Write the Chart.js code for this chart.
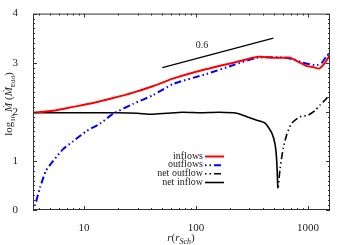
<!DOCTYPE html>
<html>
<head>
<meta charset="utf-8">
<script src="https://cdn.jsdelivr.net/npm/chart.js@4/dist/chart.umd.min.js"></script>
<style>
  html, body { margin: 0; padding: 0; background: #fff; }
  canvas { display: block; }
</style>
</head>
<body>
<canvas id="c" width="350" height="245"></canvas>
<script>
// radius in r_Sch, values are log10 Mdot / Mdot_Edd
const rInflows = [3.5, 5.3, 8, 12, 18.2, 27.4, 41, 63, 124, 215, 360, 490, 562, 693, 850, 975, 1110, 1255, 1420, 1570];
const inflows = [1.98, 2.02, 2.1, 2.18, 2.28, 2.39, 2.52, 2.68, 2.87, 3.0, 3.12, 3.1, 3.1, 3.1, 3.0, 2.93, 2.91, 2.88, 3.0, 3.16];

const rOutflows = [3.5, 3.65, 4.05, 4.57, 5.3, 6.5, 8, 10.4, 13.9, 18.2, 27.4, 41.3, 63, 124, 215, 350, 562, 734, 900, 1197, 1330, 1460, 1570];
const outflows = [0, 0.1, 0.46, 0.8, 1.0, 1.24, 1.4, 1.6, 1.76, 1.96, 2.16, 2.34, 2.57, 2.77, 2.95, 3.1, 3.11, 3.07, 3.0, 2.95, 3.0, 3.13, 3.2];

const rNetOutflow = [543, 562, 602, 646, 716, 850, 1000, 1150, 1280, 1420, 1570];
const netOutflow = [0.47, 0.84, 1.27, 1.54, 1.77, 1.9, 1.93, 2.02, 2.14, 2.24, 2.36];

const rNetInflow = [3.5, 6, 10, 20, 30, 40, 55, 76, 110, 160, 231, 284, 349, 413, 474, 507, 525, 537];
const netInflow = [1.98, 1.98, 1.98, 1.98, 1.97, 1.95, 1.97, 1.99, 1.98, 1.99, 1.97, 1.90, 1.83, 1.77, 1.57, 1.34, 1.0, 0.44];

const rSlope = [50, 490];
const slopeLine = [2.9, 3.5];
const slopeLabel = '0.6';

const xTicks = [10, 100, 1000];
const yTicks = [0, 1, 2, 3, 4];

const SERIF = '"Liberation Serif", "DejaVu Serif", serif';
const dashDotDot = [1.5, 3, 1.5, 3, 7, 3];

function pts(xs, ys) { return xs.map((x, i) => ({ x, y: ys[i] })); }

const series = [
  { label: 'inflows', data: pts(rInflows, inflows), borderColor: '#ff0000', borderWidth: 2, borderDash: [] },
  { label: 'outflows', data: pts(rOutflows, outflows), borderColor: '#0000ff', borderWidth: 2, borderDash: dashDotDot },
  { label: 'net outflow', data: pts(rNetOutflow, netOutflow), borderColor: '#000000', borderWidth: 1.6, borderDash: dashDotDot },
  { label: 'net inflow', data: pts(rNetInflow, netInflow), borderColor: '#000000', borderWidth: 1.6, borderDash: [] }
];

const decorPlugin = {
  id: 'decor',
  afterDraw(chart) {
    const { ctx, chartArea: a, scales } = chart;
    const xs = scales.x, ys = scales.y;
    ctx.save();
    ctx.strokeStyle = '#333';
    ctx.lineWidth = 1;
    ctx.setLineDash([]);
    ctx.strokeRect(a.left + 0.5, a.top + 0.5, a.right - a.left - 1, a.bottom - a.top - 1);

    // inside ticks on all four sides
    ctx.beginPath();
    for (let d = 1; d <= 1000; d *= 10) {
      for (let m = 1; m <= 9; m++) {
        const v = d * m;
        if (v < xs.min || v > xs.max) continue;
        const x = Math.round(xs.getPixelForValue(v)) + 0.5;
        const len = m === 1 ? 4 : 2;
        ctx.moveTo(x, a.bottom); ctx.lineTo(x, a.bottom - len);
        ctx.moveTo(x, a.top); ctx.lineTo(x, a.top + len);
      }
    }
    for (let i = 0; i <= 40; i++) {
      const v = i / 10;
      const y = Math.round(ys.getPixelForValue(v)) + 0.5;
      const len = i % 10 === 0 ? 4 : 2;
      ctx.moveTo(a.left, y); ctx.lineTo(a.left + len, y);
      ctx.moveTo(a.right, y); ctx.lineTo(a.right - len, y);
    }
    ctx.stroke();

    // slope label
    ctx.fillStyle = '#222';
    ctx.font = '10px ' + SERIF;
    ctx.textAlign = 'center';
    ctx.textBaseline = 'middle';
    ctx.fillText(slopeLabel, 202, 45);

    // legend
    const rows = [156, 164.7, 173.3, 182];
    series.forEach((s, i) => {
      ctx.fillStyle = '#222';
      ctx.textAlign = 'right';
      ctx.fillText(s.label, 203, rows[i]);
      ctx.beginPath();
      ctx.strokeStyle = s.borderColor;
      ctx.lineWidth = s.borderWidth;
      ctx.setLineDash(s.borderDash);
      ctx.moveTo(205, rows[i] + 0.5);
      ctx.lineTo(224, rows[i] + 0.5);
      ctx.stroke();
    });
    ctx.setLineDash([]);

    const drawParts = (parts, x0, y0) => {
      let x = x0;
      parts.forEach(p => {
        ctx.font = p.f;
        ctx.textAlign = 'left';
        ctx.fillText(p.t, x, y0 + (p.dy || 0));
        x += ctx.measureText(p.t).width;
      });
    };
    const widthOf = parts => parts.reduce((w, p) => { ctx.font = p.f; return w + ctx.measureText(p.t).width; }, 0);

    // x title: r(r_Sch)
    ctx.fillStyle = '#222';
    ctx.textBaseline = 'alphabetic';
    const xt = [
      { t: 'r', f: 'italic 11px ' + SERIF },
      { t: '(', f: '11px ' + SERIF },
      { t: 'r', f: 'italic 11px ' + SERIF },
      { t: 'Sch', f: 'italic 8px ' + SERIF, dy: 2.5 },
      { t: ')', f: '11px ' + SERIF }
    ];
    drawParts(xt, 181 - widthOf(xt) / 2, 241);

    // y title: log10 Mdot (Mdot_Edd)
    const yt = [
      { t: 'log', f: '11px ' + SERIF },
      { t: '10', f: '7px ' + SERIF, dy: 2.5 },
      { t: ' ', f: '11px ' + SERIF },
      { t: 'Ṁ', f: 'italic 11px ' + SERIF },
      { t: ' (', f: '11px ' + SERIF },
      { t: 'Ṁ', f: 'italic 11px ' + SERIF },
      { t: 'Edd', f: '7px ' + SERIF, dy: 2.5 },
      { t: ')', f: '11px ' + SERIF }
    ];
    ctx.translate(12, 104);
    ctx.rotate(-Math.PI / 2);
    drawParts(yt, -widthOf(yt) / 2, 0);
    ctx.restore();
  }
};

new Chart(document.getElementById('c'), {
  type: 'line',
  data: {
    datasets: [
      ...series.map(s => ({
        label: s.label, data: s.data, borderColor: s.borderColor, borderWidth: s.borderWidth,
        borderDash: s.borderDash, pointRadius: 0, tension: 0.2, fill: false
      })),
      { label: 'slope', data: pts(rSlope, slopeLine), borderColor: '#000', borderWidth: 1.2, pointRadius: 0, fill: false }
    ]
  },
  options: {
    responsive: false,
    devicePixelRatio: 1,
    animation: false,
    layout: { padding: { top: 11, right: 20, left: 0, bottom: 0 } },
    plugins: { legend: { display: false }, tooltip: { enabled: false } },
    scales: {
      x: {
        type: 'logarithmic', min: 3.5, max: 1570,
        grid: { display: false }, border: { display: false },
        afterBuildTicks: s => { s.ticks = xTicks.map(v => ({ value: v })); },
        afterFit: s => { s.height = 35; },
        ticks: { autoSkip: false, maxRotation: 0, padding: 4, color: '#222', font: { family: SERIF, size: 11 }, callback: v => String(v) }
      },
      y: {
        min: 0, max: 4,
        grid: { display: false }, border: { display: false },
        afterBuildTicks: s => { s.ticks = yTicks.map(v => ({ value: v })); },
        afterFit: s => { s.width = 33; },
        ticks: { padding: 7, color: '#222', font: { family: SERIF, size: 11 } }
      }
    }
  },
  plugins: [decorPlugin]
});
</script>
</body>
</html>
